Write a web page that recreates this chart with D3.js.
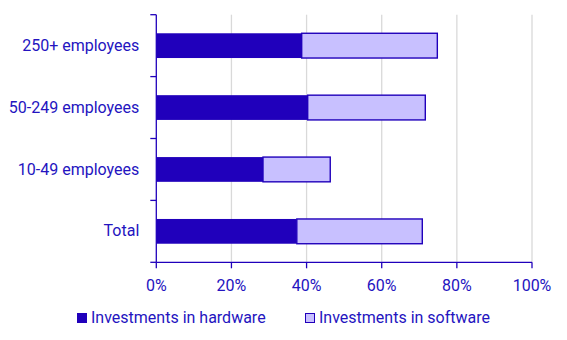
<!DOCTYPE html>
<html>
<head>
<meta charset="utf-8">
<script src="https://cdn.jsdelivr.net/npm/d3@7"></script>
<style>
  html, body { margin: 0; padding: 0; background: #fff; }
  svg { display: block; }
  text { font-family: Roboto, sans-serif; }
</style>
</head>
<body>
<svg id="chart" width="567" height="340"></svg>
<script>
const categories = ["250+ employees", "50-249 employees", "10-49 employees", "Total"];
const hardware = [38.7, 40.3, 28.4, 37.4];
const software = [36.1, 31.3, 17.9, 33.4];
const xTicks = [0, 20, 40, 60, 80, 100];
const seriesNames = ["Investments in hardware", "Investments in software"];

const dark = "#2000bb";
const light = "#c8c0ff";
const textColor = "#2414c0";

const svg = d3.select("#chart");
const x = d3.scaleLinear().domain([0, 100]).range([156.3, 532]);
const y = d3.scaleBand().domain(categories).range([14.7, 262.3]).paddingInner(0.6).paddingOuter(0.3);

// gridlines
svg.append("g").selectAll("line").data(xTicks.filter(d => d > 0)).join("line")
  .attr("x1", d => x(d)).attr("x2", d => x(d))
  .attr("y1", y.range()[0]).attr("y2", y.range()[1])
  .attr("stroke", "#d9d9d9").attr("stroke-width", 1.3);

// bars
const data = categories.map((c, i) => ({c, h: hardware[i], s: software[i]}));
const gBars = svg.append("g");
gBars.selectAll("rect.hw").data(data).join("rect").attr("class", "hw")
  .attr("x", x(0)).attr("y", d => y(d.c))
  .attr("width", d => x(d.h) - x(0)).attr("height", y.bandwidth())
  .attr("fill", dark);
gBars.selectAll("rect.sw").data(data).join("rect").attr("class", "sw")
  .attr("x", d => x(d.h)).attr("y", d => y(d.c))
  .attr("width", d => x(d.h + d.s) - x(d.h)).attr("height", y.bandwidth())
  .attr("fill", light).attr("stroke", dark).attr("stroke-width", 1.4);

// y axis
const step = y.step();
const gap = step - y.bandwidth();
const bounds = categories.map(c => y(c) - gap / 2).concat([y(categories[categories.length - 1]) + y.bandwidth() + gap / 2]);
const gy = svg.append("g");
gy.append("line").attr("x1", x(0)).attr("x2", x(0)).attr("y1", y.range()[0]).attr("y2", y.range()[1])
  .attr("stroke", dark).attr("stroke-width", 1.3);
gy.selectAll("line.t").data(bounds).join("line").attr("class", "t")
  .attr("x1", x(0) - 6).attr("x2", x(0)).attr("y1", d => d).attr("y2", d => d)
  .attr("stroke", dark).attr("stroke-width", 1.3);
gy.selectAll("text").data(categories).join("text")
  .attr("x", x(0) - 17).attr("y", d => y(d) + y.bandwidth() / 2).attr("dy", "0.32em")
  .attr("text-anchor", "end").attr("font-size", 16).attr("fill", textColor).text(d => d);

// x axis
const gx = svg.append("g").attr("transform", `translate(0,${y.range()[1]})`);
gx.append("line").attr("x1", x(0)).attr("x2", x(100)).attr("stroke", dark).attr("stroke-width", 1.3);
gx.selectAll("line.t").data(xTicks).join("line").attr("class", "t")
  .attr("x1", d => x(d)).attr("x2", d => x(d)).attr("y1", 0).attr("y2", 6)
  .attr("stroke", dark).attr("stroke-width", 1.3);
gx.selectAll("text").data(xTicks).join("text")
  .attr("x", d => x(d)).attr("y", 17).attr("dy", "0.71em")
  .attr("text-anchor", "middle").attr("font-size", 16).attr("fill", textColor).text(d => d + "%");

// legend
const legX = [77, 305];
const lg = svg.append("g");
seriesNames.forEach((n, i) => {
  lg.append("rect").attr("x", legX[i] + 0.5).attr("y", 313.5).attr("width", 9).attr("height", 9)
    .attr("fill", i === 0 ? dark : light).attr("stroke", dark).attr("stroke-width", 1);
  lg.append("text").attr("x", legX[i] + 14).attr("y", 323).attr("font-size", 16)
    .attr("fill", textColor).text(n);
});
</script>
</body>
</html>
